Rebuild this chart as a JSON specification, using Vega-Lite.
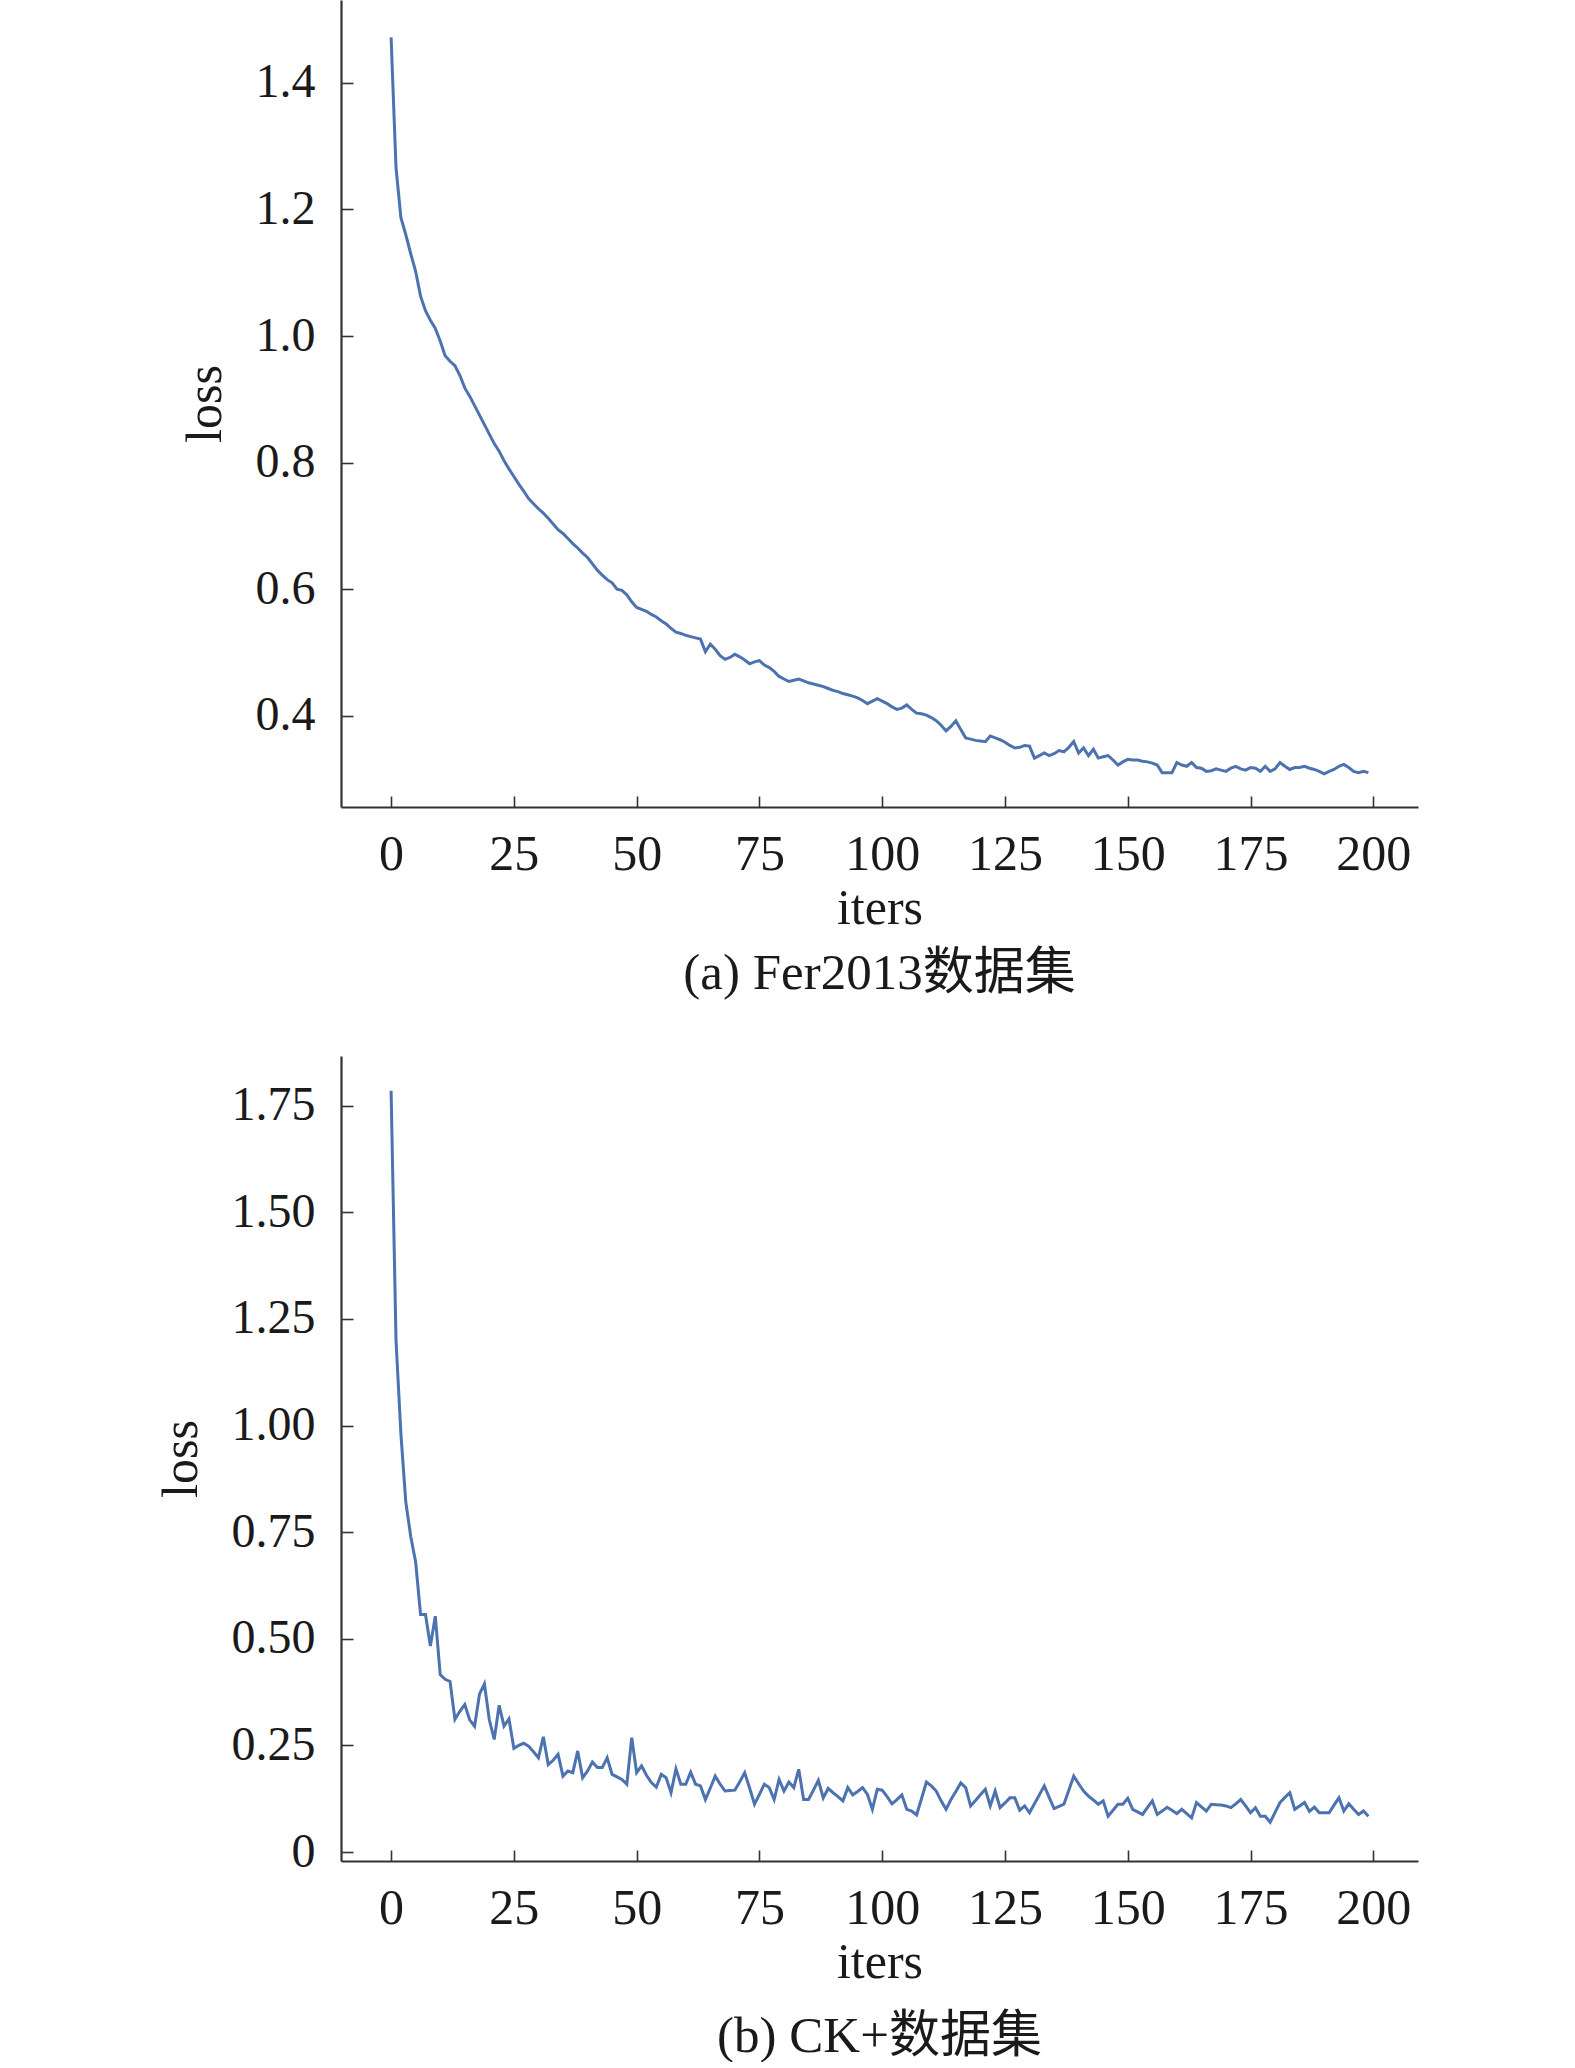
{
  "$schema": "https://vega.github.io/schema/vega-lite/v6.json",
  "background": "white",
  "padding": {"left": 156, "top": 0, "right": 10, "bottom": 0},
  "spacing": 57,
  "datasets": {
    "fer": [
      {"iter": 0, "loss": 1.472}, {"iter": 1, "loss": 1.266}, {"iter": 2, "loss": 1.187}, {"iter": 3, "loss": 1.16}, {"iter": 4, "loss": 1.13},
      {"iter": 5, "loss": 1.102}, {"iter": 6, "loss": 1.063}, {"iter": 7, "loss": 1.04}, {"iter": 8, "loss": 1.025}, {"iter": 9, "loss": 1.012},
      {"iter": 10, "loss": 0.992}, {"iter": 11, "loss": 0.969}, {"iter": 12, "loss": 0.96}, {"iter": 13, "loss": 0.953}, {"iter": 14, "loss": 0.938},
      {"iter": 15, "loss": 0.918}, {"iter": 16, "loss": 0.905}, {"iter": 17, "loss": 0.89}, {"iter": 18, "loss": 0.875}, {"iter": 19, "loss": 0.86},
      {"iter": 20, "loss": 0.845}, {"iter": 21, "loss": 0.83}, {"iter": 22, "loss": 0.818}, {"iter": 23, "loss": 0.803}, {"iter": 24, "loss": 0.79},
      {"iter": 25, "loss": 0.778}, {"iter": 26, "loss": 0.766}, {"iter": 27, "loss": 0.755}, {"iter": 28, "loss": 0.743}, {"iter": 29, "loss": 0.735},
      {"iter": 30, "loss": 0.727}, {"iter": 31, "loss": 0.72}, {"iter": 32, "loss": 0.712}, {"iter": 33, "loss": 0.703}, {"iter": 34, "loss": 0.694},
      {"iter": 35, "loss": 0.688}, {"iter": 36, "loss": 0.68}, {"iter": 37, "loss": 0.672}, {"iter": 38, "loss": 0.665}, {"iter": 39, "loss": 0.657},
      {"iter": 40, "loss": 0.65}, {"iter": 41, "loss": 0.64}, {"iter": 42, "loss": 0.63}, {"iter": 43, "loss": 0.622}, {"iter": 44, "loss": 0.615},
      {"iter": 45, "loss": 0.61}, {"iter": 46, "loss": 0.6}, {"iter": 47, "loss": 0.598}, {"iter": 48, "loss": 0.591}, {"iter": 49, "loss": 0.58},
      {"iter": 50, "loss": 0.571}, {"iter": 51, "loss": 0.568}, {"iter": 52, "loss": 0.565}, {"iter": 53, "loss": 0.56}, {"iter": 54, "loss": 0.556},
      {"iter": 55, "loss": 0.55}, {"iter": 56, "loss": 0.545}, {"iter": 57, "loss": 0.538}, {"iter": 58, "loss": 0.532}, {"iter": 59, "loss": 0.53},
      {"iter": 60, "loss": 0.527}, {"iter": 61, "loss": 0.525}, {"iter": 62, "loss": 0.523}, {"iter": 63, "loss": 0.521}, {"iter": 64, "loss": 0.501},
      {"iter": 65, "loss": 0.513}, {"iter": 66, "loss": 0.505}, {"iter": 67, "loss": 0.495}, {"iter": 68, "loss": 0.489}, {"iter": 69, "loss": 0.492},
      {"iter": 70, "loss": 0.497}, {"iter": 71, "loss": 0.493}, {"iter": 72, "loss": 0.488}, {"iter": 73, "loss": 0.482}, {"iter": 74, "loss": 0.485},
      {"iter": 75, "loss": 0.487}, {"iter": 76, "loss": 0.48}, {"iter": 77, "loss": 0.476}, {"iter": 78, "loss": 0.47}, {"iter": 79, "loss": 0.462},
      {"iter": 80, "loss": 0.458}, {"iter": 81, "loss": 0.454}, {"iter": 82, "loss": 0.456}, {"iter": 83, "loss": 0.458}, {"iter": 84, "loss": 0.455},
      {"iter": 85, "loss": 0.452}, {"iter": 86, "loss": 0.45}, {"iter": 87, "loss": 0.448}, {"iter": 88, "loss": 0.446}, {"iter": 89, "loss": 0.443},
      {"iter": 90, "loss": 0.44}, {"iter": 91, "loss": 0.438}, {"iter": 92, "loss": 0.435}, {"iter": 93, "loss": 0.433}, {"iter": 94, "loss": 0.431},
      {"iter": 95, "loss": 0.428}, {"iter": 96, "loss": 0.424}, {"iter": 97, "loss": 0.419}, {"iter": 98, "loss": 0.423}, {"iter": 99, "loss": 0.427},
      {"iter": 100, "loss": 0.423}, {"iter": 101, "loss": 0.419}, {"iter": 102, "loss": 0.414}, {"iter": 103, "loss": 0.41}, {"iter": 104, "loss": 0.412},
      {"iter": 105, "loss": 0.417}, {"iter": 106, "loss": 0.41}, {"iter": 107, "loss": 0.404}, {"iter": 108, "loss": 0.403}, {"iter": 109, "loss": 0.401},
      {"iter": 110, "loss": 0.397}, {"iter": 111, "loss": 0.392}, {"iter": 112, "loss": 0.385}, {"iter": 113, "loss": 0.376}, {"iter": 114, "loss": 0.383},
      {"iter": 115, "loss": 0.392}, {"iter": 116, "loss": 0.378}, {"iter": 117, "loss": 0.365}, {"iter": 118, "loss": 0.363}, {"iter": 119, "loss": 0.361},
      {"iter": 120, "loss": 0.36}, {"iter": 121, "loss": 0.359}, {"iter": 122, "loss": 0.368}, {"iter": 123, "loss": 0.365}, {"iter": 124, "loss": 0.362},
      {"iter": 125, "loss": 0.358}, {"iter": 126, "loss": 0.353}, {"iter": 127, "loss": 0.349}, {"iter": 128, "loss": 0.35}, {"iter": 129, "loss": 0.353},
      {"iter": 130, "loss": 0.352}, {"iter": 131, "loss": 0.333}, {"iter": 132, "loss": 0.337}, {"iter": 133, "loss": 0.341}, {"iter": 134, "loss": 0.337},
      {"iter": 135, "loss": 0.34}, {"iter": 136, "loss": 0.345}, {"iter": 137, "loss": 0.343}, {"iter": 138, "loss": 0.35}, {"iter": 139, "loss": 0.359},
      {"iter": 140, "loss": 0.341}, {"iter": 141, "loss": 0.349}, {"iter": 142, "loss": 0.337}, {"iter": 143, "loss": 0.347}, {"iter": 144, "loss": 0.333},
      {"iter": 145, "loss": 0.335}, {"iter": 146, "loss": 0.337}, {"iter": 147, "loss": 0.33}, {"iter": 148, "loss": 0.322}, {"iter": 149, "loss": 0.327},
      {"iter": 150, "loss": 0.331}, {"iter": 151, "loss": 0.33}, {"iter": 152, "loss": 0.33}, {"iter": 153, "loss": 0.328}, {"iter": 154, "loss": 0.327},
      {"iter": 155, "loss": 0.325}, {"iter": 156, "loss": 0.322}, {"iter": 157, "loss": 0.31}, {"iter": 158, "loss": 0.31}, {"iter": 159, "loss": 0.31},
      {"iter": 160, "loss": 0.326}, {"iter": 161, "loss": 0.322}, {"iter": 162, "loss": 0.32}, {"iter": 163, "loss": 0.326}, {"iter": 164, "loss": 0.318},
      {"iter": 165, "loss": 0.317}, {"iter": 166, "loss": 0.312}, {"iter": 167, "loss": 0.313}, {"iter": 168, "loss": 0.316}, {"iter": 169, "loss": 0.314},
      {"iter": 170, "loss": 0.312}, {"iter": 171, "loss": 0.317}, {"iter": 172, "loss": 0.32}, {"iter": 173, "loss": 0.316}, {"iter": 174, "loss": 0.314},
      {"iter": 175, "loss": 0.318}, {"iter": 176, "loss": 0.317}, {"iter": 177, "loss": 0.312}, {"iter": 178, "loss": 0.32}, {"iter": 179, "loss": 0.312},
      {"iter": 180, "loss": 0.316}, {"iter": 181, "loss": 0.326}, {"iter": 182, "loss": 0.32}, {"iter": 183, "loss": 0.315}, {"iter": 184, "loss": 0.318},
      {"iter": 185, "loss": 0.318}, {"iter": 186, "loss": 0.32}, {"iter": 187, "loss": 0.317}, {"iter": 188, "loss": 0.315}, {"iter": 189, "loss": 0.312},
      {"iter": 190, "loss": 0.308}, {"iter": 191, "loss": 0.312}, {"iter": 192, "loss": 0.315}, {"iter": 193, "loss": 0.32}, {"iter": 194, "loss": 0.323},
      {"iter": 195, "loss": 0.318}, {"iter": 196, "loss": 0.312}, {"iter": 197, "loss": 0.31}, {"iter": 198, "loss": 0.312}, {"iter": 199, "loss": 0.31}
    ],
    "ck": [
      {"iter": 0, "loss": 1.785}, {"iter": 1, "loss": 1.2}, {"iter": 2, "loss": 0.98}, {"iter": 3, "loss": 0.82}, {"iter": 4, "loss": 0.74},
      {"iter": 5, "loss": 0.68}, {"iter": 6, "loss": 0.557}, {"iter": 7, "loss": 0.557}, {"iter": 8, "loss": 0.483}, {"iter": 9, "loss": 0.553},
      {"iter": 10, "loss": 0.416}, {"iter": 11, "loss": 0.405}, {"iter": 12, "loss": 0.4}, {"iter": 13, "loss": 0.311}, {"iter": 14, "loss": 0.33},
      {"iter": 15, "loss": 0.346}, {"iter": 16, "loss": 0.31}, {"iter": 17, "loss": 0.295}, {"iter": 18, "loss": 0.37}, {"iter": 19, "loss": 0.394},
      {"iter": 20, "loss": 0.31}, {"iter": 21, "loss": 0.264}, {"iter": 22, "loss": 0.344}, {"iter": 23, "loss": 0.295}, {"iter": 24, "loss": 0.312},
      {"iter": 25, "loss": 0.243}, {"iter": 26, "loss": 0.25}, {"iter": 27, "loss": 0.255}, {"iter": 28, "loss": 0.248}, {"iter": 29, "loss": 0.235},
      {"iter": 30, "loss": 0.221}, {"iter": 31, "loss": 0.27}, {"iter": 32, "loss": 0.205}, {"iter": 33, "loss": 0.215}, {"iter": 34, "loss": 0.229},
      {"iter": 35, "loss": 0.178}, {"iter": 36, "loss": 0.19}, {"iter": 37, "loss": 0.186}, {"iter": 38, "loss": 0.237}, {"iter": 39, "loss": 0.174},
      {"iter": 40, "loss": 0.19}, {"iter": 41, "loss": 0.211}, {"iter": 42, "loss": 0.198}, {"iter": 43, "loss": 0.198}, {"iter": 44, "loss": 0.221},
      {"iter": 45, "loss": 0.182}, {"iter": 46, "loss": 0.176}, {"iter": 47, "loss": 0.17}, {"iter": 48, "loss": 0.159}, {"iter": 49, "loss": 0.268},
      {"iter": 50, "loss": 0.186}, {"iter": 51, "loss": 0.202}, {"iter": 52, "loss": 0.18}, {"iter": 53, "loss": 0.163}, {"iter": 54, "loss": 0.152},
      {"iter": 55, "loss": 0.182}, {"iter": 56, "loss": 0.174}, {"iter": 57, "loss": 0.139}, {"iter": 58, "loss": 0.195}, {"iter": 59, "loss": 0.159},
      {"iter": 60, "loss": 0.159}, {"iter": 61, "loss": 0.187}, {"iter": 62, "loss": 0.159}, {"iter": 63, "loss": 0.155}, {"iter": 64, "loss": 0.123},
      {"iter": 65, "loss": 0.15}, {"iter": 66, "loss": 0.178}, {"iter": 67, "loss": 0.159}, {"iter": 68, "loss": 0.143}, {"iter": 69, "loss": 0.144},
      {"iter": 70, "loss": 0.145}, {"iter": 71, "loss": 0.165}, {"iter": 72, "loss": 0.186}, {"iter": 73, "loss": 0.15}, {"iter": 74, "loss": 0.112},
      {"iter": 75, "loss": 0.135}, {"iter": 76, "loss": 0.159}, {"iter": 77, "loss": 0.151}, {"iter": 78, "loss": 0.123}, {"iter": 79, "loss": 0.17},
      {"iter": 80, "loss": 0.143}, {"iter": 81, "loss": 0.164}, {"iter": 82, "loss": 0.151}, {"iter": 83, "loss": 0.194}, {"iter": 84, "loss": 0.123},
      {"iter": 85, "loss": 0.123}, {"iter": 86, "loss": 0.145}, {"iter": 87, "loss": 0.168}, {"iter": 88, "loss": 0.127}, {"iter": 89, "loss": 0.149},
      {"iter": 90, "loss": 0.139}, {"iter": 91, "loss": 0.13}, {"iter": 92, "loss": 0.12}, {"iter": 93, "loss": 0.151}, {"iter": 94, "loss": 0.134},
      {"iter": 95, "loss": 0.142}, {"iter": 96, "loss": 0.151}, {"iter": 97, "loss": 0.135}, {"iter": 98, "loss": 0.1}, {"iter": 99, "loss": 0.147},
      {"iter": 100, "loss": 0.145}, {"iter": 101, "loss": 0.13}, {"iter": 102, "loss": 0.113}, {"iter": 103, "loss": 0.123}, {"iter": 104, "loss": 0.134},
      {"iter": 105, "loss": 0.1}, {"iter": 106, "loss": 0.096}, {"iter": 107, "loss": 0.087}, {"iter": 108, "loss": 0.125}, {"iter": 109, "loss": 0.164},
      {"iter": 110, "loss": 0.155}, {"iter": 111, "loss": 0.143}, {"iter": 112, "loss": 0.12}, {"iter": 113, "loss": 0.1}, {"iter": 114, "loss": 0.123},
      {"iter": 115, "loss": 0.142}, {"iter": 116, "loss": 0.162}, {"iter": 117, "loss": 0.151}, {"iter": 118, "loss": 0.108}, {"iter": 119, "loss": 0.121},
      {"iter": 120, "loss": 0.134}, {"iter": 121, "loss": 0.147}, {"iter": 122, "loss": 0.108}, {"iter": 123, "loss": 0.143}, {"iter": 124, "loss": 0.104},
      {"iter": 125, "loss": 0.115}, {"iter": 126, "loss": 0.127}, {"iter": 127, "loss": 0.127}, {"iter": 128, "loss": 0.098}, {"iter": 129, "loss": 0.108},
      {"iter": 130, "loss": 0.092}, {"iter": 131, "loss": 0.113}, {"iter": 132, "loss": 0.134}, {"iter": 133, "loss": 0.155}, {"iter": 134, "loss": 0.128},
      {"iter": 135, "loss": 0.102}, {"iter": 136, "loss": 0.107}, {"iter": 137, "loss": 0.112}, {"iter": 138, "loss": 0.145}, {"iter": 139, "loss": 0.178},
      {"iter": 140, "loss": 0.16}, {"iter": 141, "loss": 0.143}, {"iter": 142, "loss": 0.131}, {"iter": 143, "loss": 0.122}, {"iter": 144, "loss": 0.112},
      {"iter": 145, "loss": 0.12}, {"iter": 146, "loss": 0.084}, {"iter": 147, "loss": 0.098}, {"iter": 148, "loss": 0.112}, {"iter": 149, "loss": 0.112},
      {"iter": 150, "loss": 0.126}, {"iter": 151, "loss": 0.1}, {"iter": 152, "loss": 0.094}, {"iter": 153, "loss": 0.088}, {"iter": 154, "loss": 0.104},
      {"iter": 155, "loss": 0.12}, {"iter": 156, "loss": 0.088}, {"iter": 157, "loss": 0.096}, {"iter": 158, "loss": 0.105}, {"iter": 159, "loss": 0.098},
      {"iter": 160, "loss": 0.09}, {"iter": 161, "loss": 0.1}, {"iter": 162, "loss": 0.09}, {"iter": 163, "loss": 0.08}, {"iter": 164, "loss": 0.116},
      {"iter": 165, "loss": 0.106}, {"iter": 166, "loss": 0.096}, {"iter": 167, "loss": 0.112}, {"iter": 168, "loss": 0.111}, {"iter": 169, "loss": 0.11},
      {"iter": 170, "loss": 0.108}, {"iter": 171, "loss": 0.104}, {"iter": 172, "loss": 0.113}, {"iter": 173, "loss": 0.123}, {"iter": 174, "loss": 0.108},
      {"iter": 175, "loss": 0.092}, {"iter": 176, "loss": 0.104}, {"iter": 177, "loss": 0.084}, {"iter": 178, "loss": 0.084}, {"iter": 179, "loss": 0.07},
      {"iter": 180, "loss": 0.093}, {"iter": 181, "loss": 0.116}, {"iter": 182, "loss": 0.128}, {"iter": 183, "loss": 0.139}, {"iter": 184, "loss": 0.1},
      {"iter": 185, "loss": 0.108}, {"iter": 186, "loss": 0.116}, {"iter": 187, "loss": 0.095}, {"iter": 188, "loss": 0.105}, {"iter": 189, "loss": 0.092},
      {"iter": 190, "loss": 0.092}, {"iter": 191, "loss": 0.092}, {"iter": 192, "loss": 0.11}, {"iter": 193, "loss": 0.127}, {"iter": 194, "loss": 0.096},
      {"iter": 195, "loss": 0.113}, {"iter": 196, "loss": 0.1}, {"iter": 197, "loss": 0.088}, {"iter": 198, "loss": 0.096}, {"iter": 199, "loss": 0.084}
    ]
  },
  "vconcat": [
    {
      "width": 1077,
      "height": 807,
      "data": {"name": "fer"},
      "title": {"text": "(a) Fer2013数据集", "orient": "bottom", "offset": 15},
      "mark": {"type": "line", "color": "#4C72B0", "strokeWidth": 3},
      "encoding": {
        "x": {
          "field": "iter", "type": "quantitative", "title": "iters",
          "scale": {"domain": [-10.2, 209.1], "nice": false, "zero": false},
          "axis": {"values": [0, 25, 50, 75, 100, 125, 150, 175, 200], "format": "d"}
        },
        "y": {
          "field": "loss", "type": "quantitative", "title": "loss",
          "scale": {"domain": [0.2557, 1.531], "nice": false, "zero": false},
          "axis": {"values": [0.4, 0.6, 0.8, 1.0, 1.2, 1.4], "format": ".1f"}
        }
      }
    },
    {
      "width": 1077,
      "height": 805,
      "data": {"name": "ck"},
      "title": {"text": "(b) CK+数据集", "orient": "bottom", "offset": 24},
      "mark": {"type": "line", "color": "#4C72B0", "strokeWidth": 3},
      "encoding": {
        "x": {
          "field": "iter", "type": "quantitative", "title": "iters",
          "scale": {"domain": [-10.2, 209.1], "nice": false, "zero": false},
          "axis": {"values": [0, 25, 50, 75, 100, 125, 150, 175, 200], "format": "d"}
        },
        "y": {
          "field": "loss", "type": "quantitative", "title": "loss",
          "scale": {"domain": [-0.0211, 1.8665], "nice": false, "zero": false},
          "axis": {
            "values": [0, 0.25, 0.5, 0.75, 1.0, 1.25, 1.5, 1.75],
            "labelExpr": "datum.value == 0 ? '0' : format(datum.value, '.2f')"
          }
        }
      }
    }
  ],
  "resolve": {"scale": {"x": "independent", "y": "independent"}},
  "config": {
    "font": "Liberation Serif",
    "view": {"stroke": null},
    "axis": {
      "grid": false,
      "domainColor": "#333333",
      "domainWidth": 2.2,
      "tickColor": "#333333",
      "tickWidth": 1.6,
      "labelFont": "Liberation Serif",
      "labelFontSize": 50,
      "labelColor": "#1a1a1a",
      "titleFont": "Liberation Serif",
      "titleFontSize": 50,
      "titleFontWeight": "normal",
      "titleColor": "#1a1a1a"
    },
    "axisX": {"tickSize": -11, "labelPadding": 33.5, "titlePadding": 4, "labelFlush": false},
    "axisY": {"tickSize": -12, "labelPadding": 38, "titlePadding": 25, "labelFontSize": 48},
    "title": {
      "font": "Liberation Serif, Noto Sans CJK SC",
      "fontSize": 51,
      "fontWeight": "normal",
      "color": "#1a1a1a"
    }
  }
}
